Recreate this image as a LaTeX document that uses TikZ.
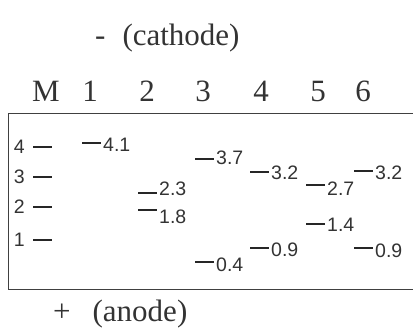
\documentclass[tikz,border=0pt]{standalone}
\usepackage{fontspec}
\setmainfont{Liberation Serif}
\setsansfont{Liberation Sans}
\usetikzlibrary{positioning}

\begin{document}
\begin{tikzpicture}[x=1pt,y=-1pt,
  band/.style={line width=2.2pt,black!85},
  size/.style={font=\sffamily\fontsize{19.5}{20}\selectfont,inner sep=0pt,text=black!80},
  head/.style={font=\fontsize{31}{34}\selectfont,inner sep=0pt,text=black!80}]
  \useasboundingbox (0,0) rectangle (413,330);

  % gel frame (right side runs off the picture)
  \draw[black!75,line width=1pt] (420,113) -| (8,289) -- (420,289);

  \node[head,anchor=west] (cathode) at (95,38) {-\hspace{17pt}(cathode)};
  \node[head,anchor=west] (anode) at (53,314) {+\hspace{22pt}(anode)};

  \node[head] (laneM) at (46,91) {M};
  \node[head] (lane1) at (90,91) {1};
  \node[head] (lane2) at (147,91) {2};
  \node[head] (lane3) at (203,91) {3};
  \node[head] (lane4) at (261,91) {4};
  \node[head] (lane5) at (318,91) {5};
  \node[head] (lane6) at (363,91) {6};

  % marker ladder
  \foreach \k/\y in {4/147,3/177,2/207,1/240}{
    \node[size,anchor=east] (m\k) at (25,\y) {\k};
    \coordinate (ma\k) at (33,\y);
    \coordinate (mb\k) at (52,\y);
    \draw[band] (ma\k) -- (mb\k);
  }

  % sample bands: name/x/band y/label y/size
  \foreach \n/\x/\y/\ly/\s in {a/82/143/145/4.1,
      b/138/193/189/2.3, c/138/210/217/1.8,
      d/195/159/158/3.7, e/195/262/265/0.4,
      f/250/172/173/3.2, g/250/248/250/0.9,
      h/306/185/189/2.7, i/306/224/225/1.4,
      j/354/171/173/3.2, k/354/248/251/0.9}{
    \coordinate (\n0) at (\x,\y);
    \coordinate (\n1) at (\x+18.5,\y);
    \draw[band] (\n0) -- (\n1);
    \node[size,anchor=west] (\n) at (\x+21,\ly) {\s};
  }
\end{tikzpicture}
\end{document}
